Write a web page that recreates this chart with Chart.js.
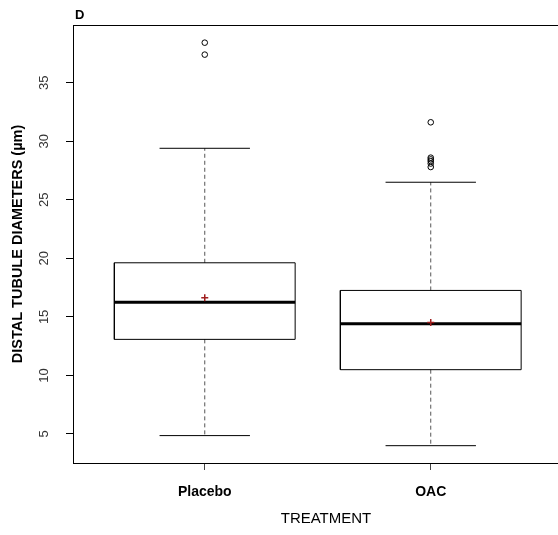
<!DOCTYPE html>
<html>
<head>
<meta charset="utf-8">
<script src="https://cdn.jsdelivr.net/npm/chart.js@4/dist/chart.umd.min.js"></script>
<style>
  html, body { margin: 0; padding: 0; background: #fff; overflow: hidden; }
  #wrap { width: 600px; height: 535px; }
</style>
</head>
<body>
<div id="wrap"><canvas id="c" width="600" height="535"></canvas></div>
<script>
// ---- data ----
const categories = ['Placebo', 'OAC'];
const lowerWhisker = [4.86, 4.0];
const q1 = [13.08, 10.49];
const medians = [16.26, 14.41];
const q3 = [19.62, 17.26];
const upperWhisker = [29.4, 26.5];
const means = [16.63, 14.53];
const outliersPlacebo = [37.4, 38.42];
const outliersOAC = [27.8, 28.1, 28.3, 28.45, 28.6, 31.62];
const yTickValues = [5, 10, 15, 20, 25, 30, 35];
const panelLabel = 'D';
const yTitle = 'DISTAL TUBULE DIAMETERS (\u00b5m)';
const xTitle = 'TREATMENT';

// ---- style / layout ----
const BOX_HALF = 0.4, STAPLE_HALF = 0.2;
const FONT = "'Liberation Sans', Arial, sans-serif";

function segData(segs) {
  const out = [];
  segs.forEach(s => {
    out.push({x: s[0], y: s[1]});
    out.push({x: s[2], y: s[3]});
    out.push({x: s[2], y: null});
  });
  return out;
}

const boxSegs = [], medSegs = [], whiskSegs = [], stapleSegs = [];
categories.forEach((c, i) => {
  const x = i + 1;
  const l = x - BOX_HALF, r = x + BOX_HALF;
  boxSegs.push([l, q1[i], r, q1[i]], [r, q1[i], r, q3[i]], [r, q3[i], l, q3[i]], [l, q3[i], l, q1[i]]);
  medSegs.push([l, medians[i], r, medians[i]]);
  whiskSegs.push([x, q3[i], x, upperWhisker[i]], [x, q1[i], x, lowerWhisker[i]]);
  stapleSegs.push([x - STAPLE_HALF, upperWhisker[i], x + STAPLE_HALF, upperWhisker[i]],
                  [x - STAPLE_HALF, lowerWhisker[i], x + STAPLE_HALF, lowerWhisker[i]]);
});
const outlierData = outliersPlacebo.map(v => ({x: 1, y: v})).concat(outliersOAC.map(v => ({x: 2, y: v})));
const meanData = means.map((v, i) => ({x: i + 1, y: v}));

const lineDs = (data, extra) => Object.assign({
  type: 'scatter', data, showLine: true, spanGaps: false, pointRadius: 0,
  borderColor: '#000', borderWidth: 1, fill: false, tension: 0
}, extra);

const decor = {
  id: 'decor',
  afterDraw(chart) {
    const ctx = chart.ctx, a = chart.chartArea, ys = chart.scales.y;
    ctx.save();
    // frame top / right
    ctx.strokeStyle = '#000'; ctx.lineWidth = 1;
    ctx.beginPath();
    ctx.moveTo(Math.round(a.left) + 0.5, Math.round(a.top) + 0.5);
    ctx.lineTo(Math.round(a.right) + 0.5, Math.round(a.top) + 0.5);
    ctx.lineTo(Math.round(a.right) + 0.5, Math.round(a.bottom) + 0.5);
    ctx.stroke();
    // rotated y tick labels
    ctx.fillStyle = '#333';
    ctx.font = '13px ' + FONT;
    ctx.textAlign = 'center'; ctx.textBaseline = 'middle';
    ys.ticks.forEach(t => {
      const py = ys.getPixelForValue(t.value);
      ctx.save();
      ctx.translate(44, py);
      ctx.rotate(-Math.PI / 2);
      ctx.fillText(String(t.value), 0, 0);
      ctx.restore();
    });
    // panel label
    ctx.fillStyle = '#000';
    ctx.font = 'bold 13px ' + FONT;
    ctx.textAlign = 'left'; ctx.textBaseline = 'alphabetic';
    ctx.fillText(panelLabel, 75, 19);
    ctx.restore();
  }
};

new Chart(document.getElementById('c'), {
  type: 'scatter',
  data: {
    datasets: [
      { data: meanData, pointStyle: 'cross', pointRadius: 3.5, pointBorderWidth: 1.5,
        borderColor: 'rgb(160,30,30)', backgroundColor: 'rgb(160,30,30)', order: 0 },
      { data: outlierData, pointStyle: 'circle', pointRadius: 2.8, pointBorderWidth: 1,
        borderColor: '#000', backgroundColor: 'rgba(0,0,0,0)', order: 1 },
      lineDs(segData(medSegs), { borderWidth: 3, order: 2 }),
      lineDs(segData(boxSegs), { order: 3 }),
      lineDs(segData(stapleSegs), { order: 4 }),
      lineDs(segData(whiskSegs), { borderColor: '#555', borderDash: [4, 3], order: 5 })
    ]
  },
  options: {
    responsive: false,
    animation: false,
    events: [],
    layout: { padding: { top: 25, right: 21, left: 0, bottom: 0 } },
    plugins: { legend: { display: false }, tooltip: { enabled: false }, title: { display: false } },
    scales: {
      x: {
        type: 'linear', min: 0.417, max: 2.656,
        afterFit(s) { s.height = 72; },
        afterBuildTicks(s) { s.ticks = categories.map((c, i) => ({ value: i + 1 })); },
        ticks: {
          autoSkip: false, maxRotation: 0, padding: 14,
          color: '#000', font: { family: FONT, size: 14, weight: 'bold' },
          callback: (v) => categories[Math.round(v) - 1]
        },
        grid: { drawOnChartArea: false, drawTicks: true, tickLength: 7, color: '#444' },
        border: { display: true, color: '#000', width: 1 },
        title: { display: true, text: xTitle, color: '#000',
                 font: { family: FONT, size: 15 }, padding: { top: 0, bottom: 7 } }
      },
      y: {
        type: 'linear', min: 2.52, max: 39.93,
        afterFit(s) { s.width = 73; },
        afterBuildTicks(s) { s.ticks = yTickValues.map(v => ({ value: v })); },
        ticks: { display: false },
        grid: { drawOnChartArea: false, drawTicks: true, tickLength: 7, color: '#000' },
        border: { display: true, color: '#000', width: 1 },
        title: { display: true, text: yTitle, color: '#000',
                 font: { family: FONT, size: 14.5, weight: 'bold' }, padding: { top: 9, bottom: 0 } }
      }
    }
  },
  plugins: [decor]
});
</script>
</body>
</html>
